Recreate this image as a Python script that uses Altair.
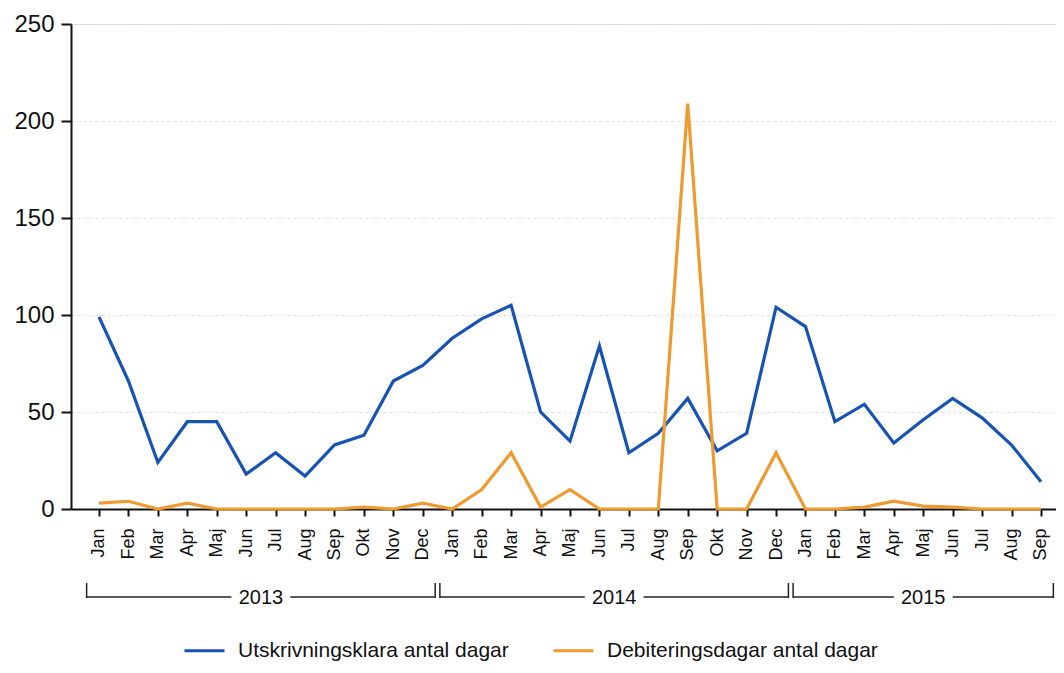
import json
import altair as alt
import pandas as pd

# ---------------- data ----------------
months = ["Jan", "Feb", "Mar", "Apr", "Maj", "Jun", "Jul", "Aug", "Sep", "Okt", "Nov", "Dec"]
years = ["2013", "2014", "2015"]
months_per_year = [12, 12, 9]

series_names = ["Utskrivningsklara antal dagar", "Debiteringsdagar antal dagar"]
series_colors = ["#1753b4", "#ee9a2e"]

utskrivningsklara = [99, 66, 24, 45, 45, 18, 29, 17, 33, 38, 66, 74,
                     88, 98, 105, 50, 35, 84, 29, 39, 57, 30, 39, 104,
                     94, 45, 54, 34, 46, 57, 47, 33, 14]
debiteringsdagar = [3, 4, 0, 3, 0, 0, 0, 0, 0, 1, 0, 3,
                    0, 10, 29, 1, 10, 0, 0, 0, 209, 0, 0, 29,
                    0, 0, 1, 4, 1.5, 1, 0, 0, 0]

y_ticks = [0, 50, 100, 150, 200, 250]

# ---------------- tables ----------------
n = len(utskrivningsklara)
idx = list(range(n))
tick_labels = [months[i % 12] for i in idx]

df = pd.DataFrame({
    "i": idx * 2,
    "value": utskrivningsklara + debiteringsdagar,
    "serie": [series_names[0]] * n + [series_names[1]] * n,
    "order": [0] * n + [1] * n,
})

seg_rows, end_rows, lab_rows = [], [], []
start = 0
for yr, cnt in zip(years, months_per_year):
    s = start - 0.42
    e = start + cnt - 1 + 0.42
    c = (s + e) / 2
    seg_rows.append({"x1": s, "x2": c - 1.0})
    seg_rows.append({"x1": c + 1.0, "x2": e})
    end_rows.append({"x": s})
    end_rows.append({"x": e})
    lab_rows.append({"c": c, "year": yr})
    start += cnt
seg_df = pd.DataFrame(seg_rows)
end_df = pd.DataFrame(end_rows)
lab_df = pd.DataFrame(lab_rows)

FONT = "Liberation Sans"
W, H = 985, 485
x_scale = alt.Scale(domain=[-0.951, 32.51], nice=False, zero=False)

label_expr = json.dumps(tick_labels) + "[datum.value]"

x_axis = alt.Axis(values=idx, labelExpr=label_expr, grid=False,
                  labelAngle=-90, labelFontSize=18, labelColor="#111",
                  labelPadding=12, tickSize=7, tickColor="#111",
                  tickWidth=2, domainColor="#111", domainWidth=2,
                  labelFont=FONT, title=None)

lines = alt.Chart(df).mark_line(strokeWidth=3.2, strokeJoin="miter").encode(
    x=alt.X("i:Q", scale=x_scale, title=None, axis=x_axis),
    y=alt.Y("value:Q", scale=alt.Scale(domain=[0, 250], nice=False), title=None,
            axis=alt.Axis(values=y_ticks, grid=True, gridColor="#d9dfea",
                          gridDash=[3, 3], gridWidth=1, labelFontSize=24,
                          labelColor="#111", labelPadding=7, tickSize=10,
                          tickColor="#111", tickWidth=2, domainColor="#111",
                          domainWidth=2, labelFont=FONT, title=None)),
    color=alt.Color("serie:N",
                    scale=alt.Scale(domain=series_names, range=series_colors),
                    legend=alt.Legend(orient="none", legendX=112, legendY=605,
                                      direction="horizontal", title=None,
                                      symbolType="stroke", symbolSize=1600,
                                      symbolStrokeWidth=3, labelFontSize=21,
                                      labelFont=FONT, labelColor="#111",
                                      labelLimit=500,
                                      columnPadding=38, labelOffset=12,
                                      padding=0)),
    order=alt.Order("order:Q"),
)

seg = alt.Chart(seg_df).mark_rule(color="#222", strokeWidth=1.5).encode(
    x=alt.X("x1:Q", scale=x_scale, title=None, axis=x_axis),
    x2="x2:Q",
    y=alt.value(573),
)
ends = alt.Chart(end_df).mark_rule(color="#222", strokeWidth=1.5).encode(
    x=alt.X("x:Q", scale=x_scale, title=None, axis=x_axis),
    y=alt.value(559),
    y2=alt.value(574),
)
year_text = alt.Chart(lab_df).mark_text(fontSize=20, font=FONT, color="#111",
                                        baseline="middle", align="center").encode(
    x=alt.X("c:Q", scale=x_scale, title=None, axis=x_axis),
    y=alt.value(574),
    text="year:N",
)

chart = alt.layer(lines, seg, ends, year_text).properties(
    width=W, height=H,
    autosize=alt.AutoSizeParams(type="none"),
    padding={"left": 63, "top": 16, "right": 0, "bottom": 156},
).configure_view(stroke=None).configure(font=FONT)

chart.save("out.html", embed_options={"renderer": "svg", "actions": False})
